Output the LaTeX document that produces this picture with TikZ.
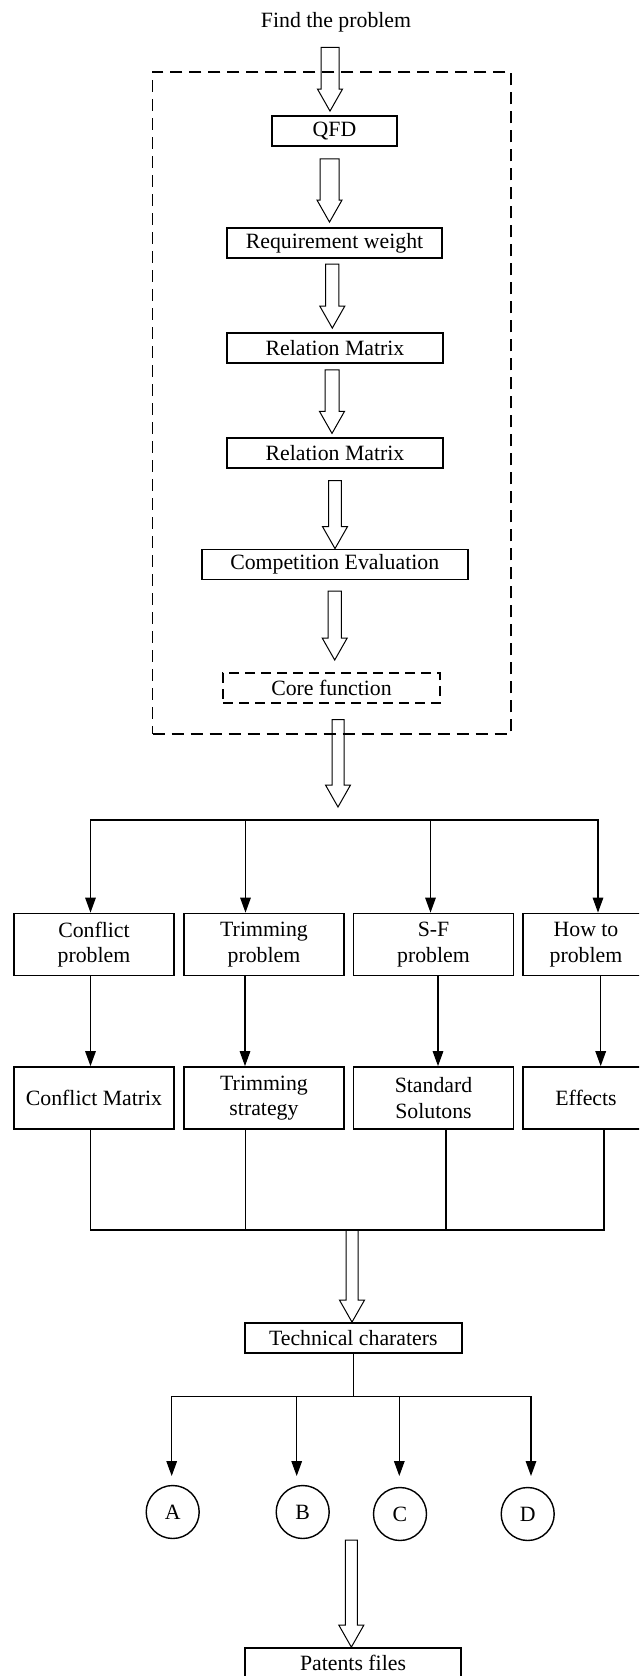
\documentclass[tikz,border=0pt]{standalone}
\usepackage{fontspec}
\setmainfont{Liberation Serif}
\usetikzlibrary{arrows.meta, positioning, calc}

\begin{document}
\begin{tikzpicture}[
    x=0.5pt, y=-0.5pt,
    txt/.style={font=\fontsize{10.9}{12.8}\selectfont},
    box/.style={rectangle, draw, line width=0.9pt, txt, minimum height=15pt, inner sep=2pt},
    bigbox/.style={box, minimum width=80pt, minimum height=31pt, align=center},
    corebox/.style={box, dash pattern=on 5pt off 3pt, line width=0.7pt},
    dashframe/.style={draw, dash pattern=on 6pt off 3.5pt, line width=0.6pt, inner sep=0pt},
    circ/.style={circle, draw, line width=0.7pt, txt, minimum size=26.5pt, inner sep=0pt},
    arr/.style={-{Triangle[length=7.5pt,width=5.3pt]}, line width=0.6pt},
    link/.style={line width=0.6pt},
    hollow/.style={line width=0.5pt, to path={
        let \p1=(\tikztostart), \p2=(\tikztotarget) in
        (\x1-#1,\y1) -- (\x1-#1,\y2+11pt) -- (\x1-6.25pt,\y2+11pt) -- (\x1,\y2)
        -- (\x1+6.25pt,\y2+11pt) -- (\x1+#1,\y2+11pt) -- (\x1+#1,\y1) -- cycle}},
    hollow/.default=3.25pt
]
\useasboundingbox (0,0) rectangle (639,1676);
\clip (0,0) rectangle (639,1676);

% QFD part
\node[txt, inner sep=0pt] (title) at (336,22.5) {Find the problem};
\node[box, minimum width=62.5pt] (qfd) at (334.5,131) {QFD};
\node[box, minimum width=107.5pt] (reqw) at (334.5,243) {Requirement weight};
\node[box, minimum width=108.3pt] (rel1) at (335,347.7) {Relation Matrix};
\node[box, minimum width=108.3pt] (rel2) at (335,453) {Relation Matrix};
\node[box, minimum width=133pt] (comp) at (334.7,564.5) {Competition Evaluation};
\node[corebox, minimum width=108.5pt] (core) at (331.5,688) {Core function};
\node[dashframe, minimum width=179.15pt, minimum height=331pt] (frame) at (331.85,403) {};

\draw[hollow=4.5pt] ([xshift=-3pt,yshift=-7.35pt]title.south) to ([yshift=2pt]qfd.north);
\draw[hollow=4.75pt] ([xshift=-2.5pt,yshift=-6pt]qfd.south) to ([yshift=2.5pt]reqw.north);
\draw[hollow=3.3pt] ([xshift=-1.1pt,yshift=-2.65pt]reqw.south) to ([yshift=1.85pt]rel1.north);
\draw[hollow=3.5pt] ([xshift=-1.5pt,yshift=-3.15pt]rel1.south) to ([yshift=1.85pt]rel2.north);
\draw[hollow=3.2pt] ([yshift=-5.85pt]rel2.south) to (comp.north);
\draw[hollow=3.3pt] ([yshift=-5.35pt]comp.south) to ([yshift=6.15pt]core.north);

% problem types
\coordinate (fork) at (338,820);
\draw[hollow=3pt] ([xshift=3.25pt,yshift=-8pt]core.south) to ([yshift=6.5pt]fork);

\node[bigbox] (cp) at (94,944.5) {Conflict\\problem};
\node[bigbox] (tp) at (264,944.5) {Trimming\\problem};
\node[bigbox] (sf) at (433.5,944.5) {S-F\\problem};
\node[bigbox, minimum width=63pt] (ht) at (586,944.5) {How to\\problem};

\node[bigbox] (cm) at (94,1098) {Conflict Matrix};
\node[bigbox] (ts) at (264,1098) {Trimming\\strategy};
\node[bigbox] (ss) at (433.5,1098) {Standard\\Solutons};
\node[bigbox, minimum width=63pt] (ef) at (586,1098) {Effects};

\draw[arr] (fork) -| ([xshift=-1.75pt]cp.north);
\draw[arr] (fork) -| ([xshift=-9.25pt]tp.north);
\draw[arr] (fork) -| ([xshift=-1.5pt]sf.north);
\draw[arr] (fork) -| ([xshift=6pt]ht.north);

\draw[arr] ([xshift=-1.75pt]cp.south) -- ([xshift=-1.75pt]cm.north);
\draw[arr] ([xshift=-9.5pt]tp.south) -- ([xshift=-9.5pt]ts.north);
\draw[arr] ([xshift=2.25pt]sf.south) -- ([xshift=2.25pt]ss.north);
\draw[arr] ([xshift=7.35pt]ht.south) -- ([xshift=7.35pt]ef.north);

% merge
\coordinate (join) at (352,1230);
\draw[link] ([xshift=-1.75pt]cm.south) |- (join);
\draw[link] ([xshift=-9.35pt]ts.south) |- (join);
\draw[link] ([xshift=6.25pt]ss.south) |- (join);
\draw[link] ([xshift=9pt]ef.south) |- (join);

\node[box, minimum width=108.3pt] (tech) at (353.3,1338) {Technical charaters};
\draw[hollow=3pt] (join) to (tech.north);

% characters
\node[circ] (A) at (172.7,1512) {A};
\node[circ] (B) at (302.7,1512) {B};
\node[circ] (C) at (400,1514) {C};
\node[circ] (D) at (527.7,1514) {D};

\coordinate (hub) at (353.3,1396.7);
\draw[link] (tech.south) -- (hub);
\draw[arr, shorten >=4.4pt] (hub) -| ([xshift=-0.5pt]A.north);
\draw[arr, shorten >=4.4pt] (hub) -| ([xshift=-3pt]B.north);
\draw[arr, shorten >=5.4pt] (hub) -| ([xshift=-0.35pt]C.north);
\draw[arr, shorten >=5.4pt] (hub) -| ([xshift=1.65pt]D.north);

\node[box, minimum width=108pt] (patents) at (353,1663) {Patents files};
\draw[hollow=3pt] ($(B.south)!0.5!(C.south)$) to (patents.north);

\end{tikzpicture}
\end{document}
